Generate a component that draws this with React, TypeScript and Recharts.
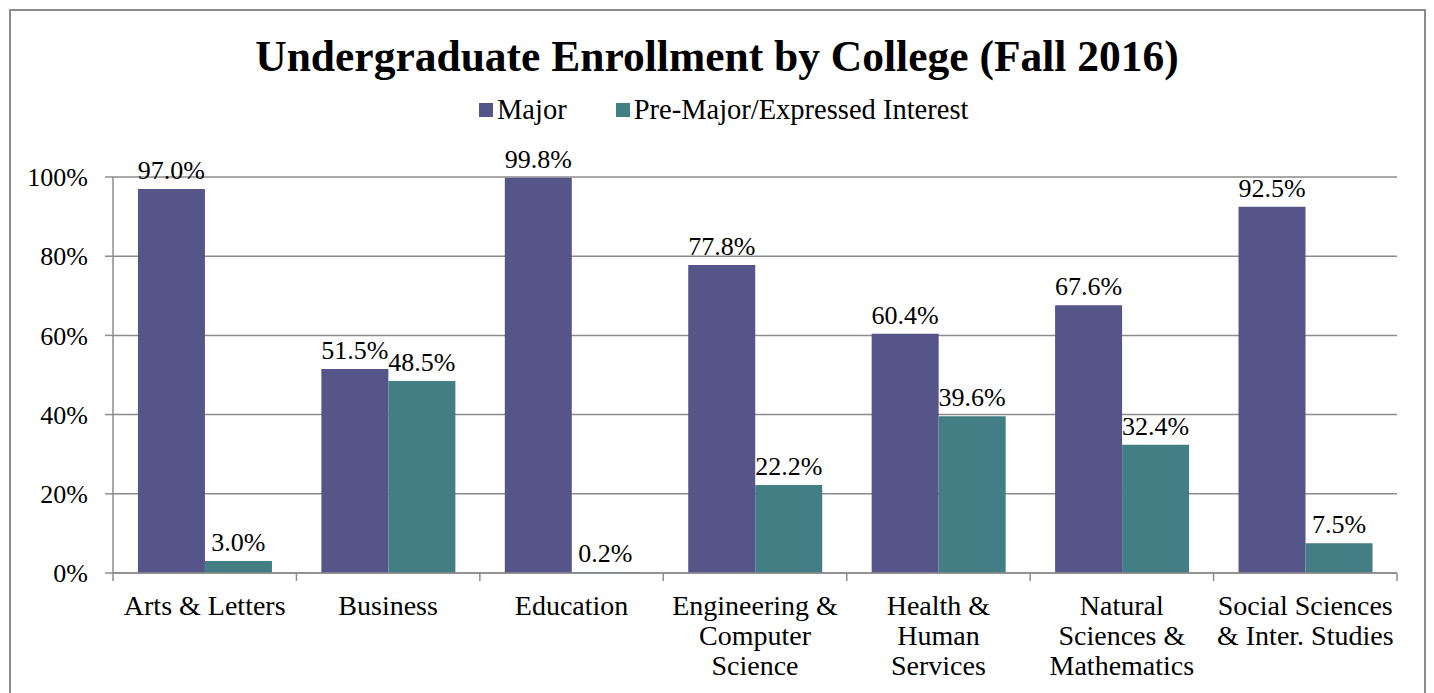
import { BarChart, Bar, XAxis, YAxis, CartesianGrid, LabelList } from 'recharts';

const colleges = [
  'Arts & Letters',
  'Business',
  'Education',
  'Engineering &\nComputer\nScience',
  'Health &\nHuman\nServices',
  'Natural\nSciences &\nMathematics',
  'Social Sciences\n& Inter. Studies',
];
const majorPct = [97.0, 51.5, 99.8, 77.8, 60.4, 67.6, 92.5];
const preMajorPct = [3.0, 48.5, 0.2, 22.2, 39.6, 32.4, 7.5];
const yTicks = [0, 20, 40, 60, 80, 100];

const seriesNames = ['Major', 'Pre-Major/Expressed Interest'];
const seriesColors = ['#55558A', '#437E84'];

const W = 1434;
const H = 693;
const Y_AXIS_W = 113;
const X_AXIS_H = 120;
const MARGIN = { top: 177, right: 37, bottom: 0, left: 0 };
const BAND = (W - Y_AXIS_W - MARGIN.right) / colleges.length;
const FONT = 'Liberation Serif, serif';
const GRID = '#8c8c8c';

const data = colleges.map((name, i) => ({
  name,
  major: majorPct[i],
  pre: preMajorPct[i],
}));

const pct = (v: any) => `${Number(v).toFixed(1)}%`;

function CollegeTick(props: any) {
  const { x, payload, index } = props;
  const lines = String(payload.value).split('\n');
  const top = H - X_AXIS_H; // axis line
  return (
    <g>
      <line x1={x - BAND / 2} x2={x - BAND / 2} y1={top} y2={top + 8} stroke={GRID} strokeWidth={1.5} />
      {index === colleges.length - 1 && (
        <line x1={x + BAND / 2} x2={x + BAND / 2} y1={top} y2={top + 8} stroke={GRID} strokeWidth={1.5} />
      )}
      <text x={x} y={top + 42} textAnchor="middle" fontSize={28} fill="#000" style={{ fontFamily: FONT }}>
        {lines.map((l, i) => (
          <tspan key={i} x={x} dy={i === 0 ? 0 : 30}>
            {l}
          </tspan>
        ))}
      </text>
    </g>
  );
}

export default function App() {
  return (
    <div style={{ position: 'absolute', left: 0, top: 0, width: W, height: H, background: '#fff', fontFamily: FONT }}>
      <div
        style={{
          position: 'absolute',
          left: 9,
          top: 9,
          width: 1417,
          height: H + 10,
          border: '2px solid #8c8c8c',
          boxSizing: 'border-box',
        }}
      />
      <div
        style={{
          position: 'absolute',
          left: 0,
          top: 30,
          width: W,
          textAlign: 'center',
          fontSize: 43.5,
          fontWeight: 'bold',
          lineHeight: '52px',
          fontFamily: FONT,
        }}
      >
        Undergraduate Enrollment by College (Fall 2016)
      </div>
      <div
        style={{
          position: 'absolute',
          left: 479,
          top: 93,
          display: 'flex',
          fontSize: 28.5,
          lineHeight: '34px',
          fontFamily: FONT,
        }}
      >
        {seriesNames.map((n, i) => (
          <div key={n} style={{ display: 'flex', alignItems: 'center', marginLeft: i ? 49 : 0 }}>
            <span style={{ width: 14, height: 14, background: seriesColors[i], marginRight: 4 }} />
            <span>{n}</span>
          </div>
        ))}
      </div>
      <div style={{ position: 'absolute', left: 0, top: 0 }}>
        <BarChart width={W} height={H} data={data} margin={MARGIN} barCategoryGap="13.6%" barGap={0}>
          <CartesianGrid vertical={false} stroke={GRID} strokeWidth={1.5} />
          <XAxis
            dataKey="name"
            height={X_AXIS_H}
            interval={0}
            tickLine={false}
            axisLine={{ stroke: GRID, strokeWidth: 1.5 }}
            tick={<CollegeTick />}
          />
          <YAxis
            width={Y_AXIS_W}
            domain={[0, 100]}
            ticks={yTicks}
            tickFormatter={(v: number) => `${v}%`}
            tickSize={8}
            tickMargin={17}
            axisLine={{ stroke: GRID, strokeWidth: 1.5 }}
            tickLine={{ stroke: GRID, strokeWidth: 1.5 }}
            tick={{ fill: '#000', fontSize: 26, fontFamily: FONT, style: { fontFamily: FONT } }}
          />
          <Bar dataKey="major" fill={seriesColors[0]} isAnimationActive={false}>
            <LabelList
              dataKey="major"
              position="top"
              offset={10}
              formatter={pct}
              fill="#000"
              fontSize={26}
              fontFamily={FONT}
              style={{ fontFamily: FONT }}
            />
          </Bar>
          <Bar dataKey="pre" fill={seriesColors[1]} isAnimationActive={false}>
            <LabelList
              dataKey="pre"
              position="top"
              offset={10}
              formatter={pct}
              fill="#000"
              fontSize={26}
              fontFamily={FONT}
              style={{ fontFamily: FONT }}
            />
          </Bar>
        </BarChart>
      </div>
    </div>
  );
}
